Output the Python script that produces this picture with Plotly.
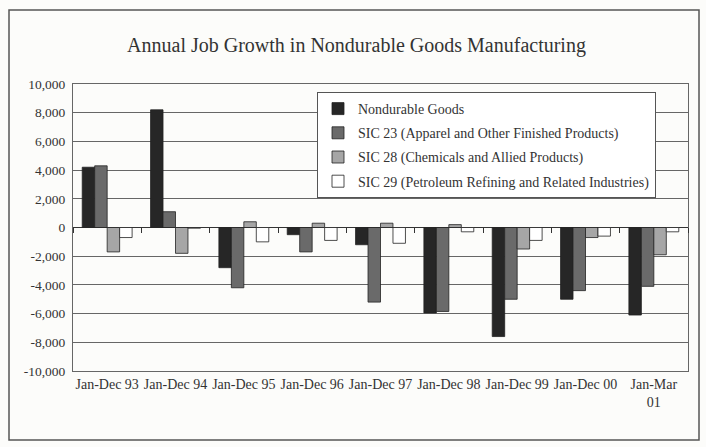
import plotly.graph_objects as go

categories = ["Jan-Dec 93", "Jan-Dec 94", "Jan-Dec 95", "Jan-Dec 96", "Jan-Dec 97",
              "Jan-Dec 98", "Jan-Dec 99", "Jan-Dec 00", "Jan-Mar<br>01"]
nondurable = [4200, 8200, -2800, -500, -1200, -5950, -7600, -5000, -6100]
sic23 = [4300, 1100, -4200, -1700, -5200, -5850, -5000, -4400, -4100]
sic28 = [-1700, -1800, 400, 300, 300, 200, -1500, -700, -1900]
sic29 = [-700, -50, -1000, -900, -1100, -300, -900, -600, -300]

series_names = ["Nondurable Goods",
                "SIC 23 (Apparel and Other Finished Products)",
                "SIC 28 (Chemicals and Allied Products)",
                "SIC 29 (Petroleum Refining and Related Industries)"]
series_values = [nondurable, sic23, sic28, sic29]
series_colors = ["#262626", "#6a6a6a", "#a6a6a6", "#ffffff"]

ytick_vals = [10000, 8000, 6000, 4000, 2000, 0, -2000, -4000, -6000, -8000, -10000]
ytick_text = ["10,000", "8,000", "6,000", "4,000", "2,000", "0", "-2,000", "-4,000",
              "-6,000", "-8,000", "-10,000"]

SERIF = "Liberation Serif, Times New Roman, serif"
BG = "#fcfcfa"

fig = go.Figure()
for i, (name, vals, col) in enumerate(zip(series_names, series_values, series_colors)):
    fig.add_trace(go.Bar(
        x=categories, y=vals, name=name, legendgroup=f"g{i}",
        marker=dict(color=col, line=dict(color="#222222", width=0.8)),
    ))

# invisible trace carrying the category tick marks on the zero line
fig.add_trace(go.Scatter(x=categories, y=[0] * len(categories), xaxis="x2", yaxis="y",
                         mode="none", showlegend=False, hoverinfo="skip"))

L, R, T, B = 73, 18, 84, 76
W, H = 706, 447
pw, ph = W - L - R, H - T - B

fig.update_layout(
    width=W, height=H,
    margin=dict(l=L, r=R, t=T, b=B),
    paper_bgcolor=BG, plot_bgcolor=BG,
    barmode="group", bargap=0.27, bargroupgap=0,
    font=dict(family=SERIF, color="#333333", size=12),
    title=dict(text="Annual Job Growth in Nondurable Goods Manufacturing",
               font=dict(family=SERIF, size=20, color="#333333"),
               x=0.505, xref="container", xanchor="center",
               y=1 - 45 / H, yref="container", yanchor="middle"),
    xaxis=dict(showgrid=False, showline=True, mirror=True, linecolor="#666666",
               linewidth=1, ticks="", tickfont=dict(size=14, family=SERIF, color="#333333")),
    xaxis2=dict(overlaying="x", anchor="free", position=(H - B - 227) / ph,
                range=[-0.5, len(categories) - 0.5], type="category",
                categoryorder="array", categoryarray=categories,
                showticklabels=False, showgrid=False, showline=False, zeroline=False,
                ticks="outside", ticklen=5, tickwidth=1, tickcolor="#333333",
                tickson="boundaries"),
    yaxis=dict(range=[-10000, 10000], tickvals=ytick_vals, ticktext=ytick_text,
               showgrid=True, gridcolor="#666666", gridwidth=1,
               zeroline=True, zerolinecolor="#333333", zerolinewidth=1,
               showline=True, mirror=True, linecolor="#666666", linewidth=1,
               ticks="", ticklabelstandoff=4,
               tickfont=dict(size=13.5, family=SERIF, color="#333333")),
    legend=dict(x=(317 - L) / pw, y=(H - B - 92) / ph, xanchor="left", yanchor="top",
                bgcolor="#ffffff", bordercolor="#555555", borderwidth=1,
                font=dict(size=14, family=SERIF, color="#333333"),
                traceorder="grouped", tracegroupgap=3),
    shapes=[dict(type="rect", xref="paper", yref="paper",
                 x0=(9 - L) / pw, x1=(699 - L) / pw,
                 y0=(H - B - 440) / ph, y1=(H - B - 10) / ph,
                 line=dict(color="#555555", width=1.5), fillcolor="rgba(0,0,0,0)",
                 layer="below")],
    showlegend=True,
)

fig.write_html("out.html")
